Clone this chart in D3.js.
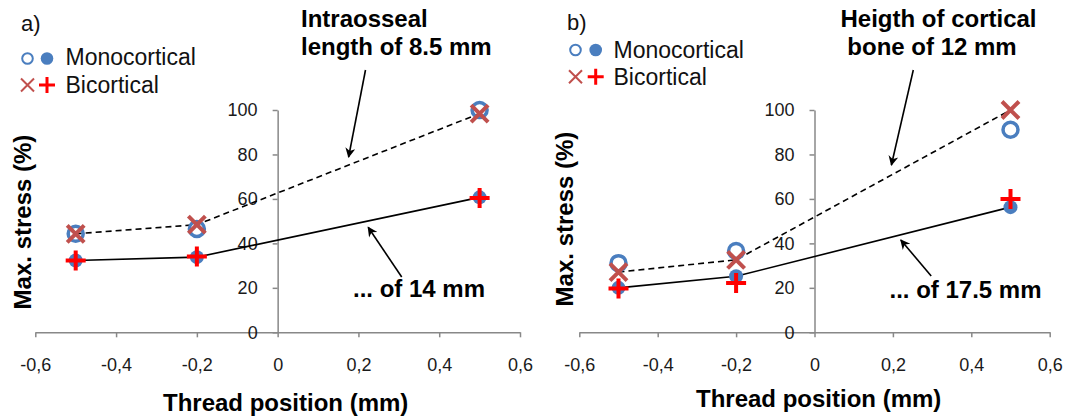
<!doctype html>
<html lang="en">
<head>
    <meta charset="UTF-8">
    <title>Max. stress vs thread position</title>
    <style>
        body { margin: 0; background: #fff; }
        svg { display: block; }
    </style>
</head>
<body>
    <script src="https://d3js.org/d3.v7.min.js"></script>
    <script>
        // thread positions (mm) and axis ticks
        const positions = [-0.5, -0.2, 0.5];
        const xTicks = [-0.6, -0.4, -0.2, 0, 0.2, 0.4, 0.6];
        const yTicks = [0, 20, 40, 60, 80, 100];
        const legendLabels = ["Monocortical", "Bicortical"];

        // panel a) intraosseal length
        const monoOpenA = [44.3, 46.5, 100];
        const biCrossA = [44.3, 48.4, 98.4];
        const monoFilledA = [32.3, 33.8, 60.7];
        const biPlusA = [32.3, 34.1, 60.4];

        // panel b) height of cortical bone
        const monoOpenB = [31.1, 36.6, 91.1];
        const biCrossB = [27.1, 32.6, 100];
        const monoFilledB = [20, 25.2, 56.3];
        const biPlusB = [19.7, 22.2, 60];

        const blue = "#4a7ebf", brick = "#c0504d", red = "#ff0000";

        const svg = d3.select("body").append("svg")
            .attr("width", 1072)
            .attr("height", 420)
            .style("font-family", "'Liberation Sans', Arial, sans-serif");

        svg.append("defs").append("marker")
            .attr("id", "arrow")
            .attr("viewBox", "0 0 10 10")
            .attr("refX", 9)
            .attr("refY", 5)
            .attr("markerUnits", "userSpaceOnUse")
            .attr("markerWidth", 13)
            .attr("markerHeight", 10)
            .attr("orient", "auto")
            .append("path")
            .attr("d", "M0,0 L10,5 L0,10 L3,5 Z")
            .attr("fill", "#000");

        const panels = [
            {
                label: "a)", labelX: 21, labelY: 31,
                left: 35.3, right: 520,
                open: monoOpenA, cross: biCrossA, filled: monoFilledA, plus: biPlusA,
                legend: {x1: 27.5, x2: 47, tx: 65.5, y1: 58.5, y2: 85, ty1: 65, ty2: 92.5},
                notes: [
                    {text: "Intraosseal", x: 301, y: 27, anchor: "start"},
                    {text: "length of 8.5 mm", x: 301, y: 55, anchor: "start"},
                    {text: "... of 14 mm", x: 353, y: 297, anchor: "start"}
                ],
                arrows: [[365.5, 70, 348.6, 157], [401.7, 277, 368.2, 227.3]],
                xTitleX: 285.7, xTitleY: 411, yTitleX: 31, yTitleY: 222
            },
            {
                label: "b)", labelX: 567, labelY: 30,
                left: 579.3, right: 1049.7,
                open: monoOpenB, cross: biCrossB, filled: monoFilledB, plus: biPlusB,
                legend: {x1: 575.5, x2: 595.7, tx: 613.5, y1: 50, y2: 76.7, ty1: 57.5, ty2: 85},
                notes: [
                    {text: "Heigth of cortical", x: 938.5, y: 27, anchor: "middle"},
                    {text: "bone of 12 mm", x: 932, y: 55, anchor: "middle"},
                    {text: "... of 17.5 mm", x: 889.5, y: 298, anchor: "start"}
                ],
                arrows: [[913.3, 70, 891.4, 165], [931.2, 276, 900.8, 240]],
                xTitleX: 818.7, xTitleY: 407, yTitleX: 573, yTitleY: 219
            }
        ];

        const fmt = d => d === 0 ? "0" : d.toFixed(1).replace(".", ",");
        const crossPath = h => `M${-h},${-h}L${h},${h}M${-h},${h}L${h},${-h}`;
        const plusPath = h => `M${-h},0H${h}M0,${-h}V${h}`;

        function drawPanel(p) {
            const g = svg.append("g");
            const x = d3.scaleLinear().domain([-0.6, 0.6]).range([p.left, p.right]);
            const y = d3.scaleLinear().domain([0, 100]).range([332.3, 110]);

            // axes cross at 0
            const xAxis = g.append("g")
                .attr("transform", `translate(0,${y(0)})`)
                .call(d3.axisBottom(x).tickValues(xTicks).tickFormat(fmt)
                    .tickSize(5).tickSizeOuter(0).tickPadding(21));
            const yAxis = g.append("g")
                .attr("transform", `translate(${x(0)},0)`)
                .call(d3.axisLeft(y).tickValues(yTicks)
                    .tickSize(5).tickSizeOuter(0).tickPadding(15));

            [xAxis, yAxis].forEach(a => {
                a.selectAll("path, line").attr("stroke", "#888").attr("stroke-width", 1.5);
                a.selectAll("text")
                    .attr("fill", "#1a1a1a")
                    .style("font-size", "18px")
                    .style("font-family", "'Liberation Sans', Arial, sans-serif");
            });

            // trend lines
            const line = d3.line()
                .x((d, i) => x(positions[i]))
                .y(d => y(d));

            g.append("path")
                .datum(p.cross)
                .attr("d", line)
                .attr("fill", "none")
                .attr("stroke", "#000")
                .attr("stroke-width", 1.6)
                .attr("stroke-dasharray", "6,4");

            g.append("path")
                .datum(p.filled)
                .attr("d", line)
                .attr("fill", "none")
                .attr("stroke", "#000")
                .attr("stroke-width", 1.6);

            // markers
            g.selectAll(".open").data(p.open).enter().append("circle")
                .attr("cx", (d, i) => x(positions[i]))
                .attr("cy", d => y(d))
                .attr("r", 7.5)
                .attr("fill", "none")
                .attr("stroke", blue)
                .attr("stroke-width", 3.5);

            g.selectAll(".filled").data(p.filled).enter().append("circle")
                .attr("cx", (d, i) => x(positions[i]))
                .attr("cy", d => y(d))
                .attr("r", 7)
                .attr("fill", blue);

            g.selectAll(".cross").data(p.cross).enter().append("path")
                .attr("transform", (d, i) => `translate(${x(positions[i])},${y(d)})`)
                .attr("d", crossPath(8.5))
                .attr("stroke", brick)
                .attr("stroke-width", 4);

            g.selectAll(".plus").data(p.plus).enter().append("path")
                .attr("transform", (d, i) => `translate(${x(positions[i])},${y(d)})`)
                .attr("d", plusPath(10))
                .attr("stroke", red)
                .attr("stroke-width", 4);

            // panel label
            g.append("text")
                .attr("x", p.labelX)
                .attr("y", p.labelY)
                .style("font-size", "22px")
                .attr("fill", "#111")
                .text(p.label);

            // legend
            const L = p.legend;
            g.append("circle").attr("cx", L.x1).attr("cy", L.y1).attr("r", 5.3)
                .attr("fill", "none").attr("stroke", blue).attr("stroke-width", 2);
            g.append("circle").attr("cx", L.x2).attr("cy", L.y1).attr("r", 6.3)
                .attr("fill", blue);
            g.append("path").attr("transform", `translate(${L.x1},${L.y2})`)
                .attr("d", crossPath(6.5)).attr("stroke", brick).attr("stroke-width", 2);
            g.append("path").attr("transform", `translate(${L.x2},${L.y2})`)
                .attr("d", plusPath(8)).attr("stroke", red).attr("stroke-width", 3);
            g.append("text").attr("x", L.tx).attr("y", L.ty1)
                .style("font-size", "23px").attr("fill", "#111").text(legendLabels[0]);
            g.append("text").attr("x", L.tx).attr("y", L.ty2)
                .style("font-size", "23px").attr("fill", "#111").text(legendLabels[1]);

            // annotations
            p.notes.forEach(n => {
                g.append("text")
                    .attr("x", n.x)
                    .attr("y", n.y)
                    .attr("text-anchor", n.anchor)
                    .style("font-size", "24px")
                    .style("font-weight", "bold")
                    .attr("fill", "#000")
                    .text(n.text);
            });
            p.arrows.forEach(a => {
                g.append("line")
                    .attr("x1", a[0]).attr("y1", a[1])
                    .attr("x2", a[2]).attr("y2", a[3])
                    .attr("stroke", "#000")
                    .attr("stroke-width", 1.6)
                    .attr("marker-end", "url(#arrow)");
            });

            // axis titles
            g.append("text")
                .attr("x", p.xTitleX)
                .attr("y", p.xTitleY)
                .attr("text-anchor", "middle")
                .style("font-size", "24px")
                .style("font-weight", "bold")
                .text("Thread position (mm)");

            g.append("text")
                .attr("transform", `translate(${p.yTitleX},${p.yTitleY}) rotate(-90)`)
                .attr("text-anchor", "middle")
                .style("font-size", "24px")
                .style("font-weight", "bold")
                .text("Max. stress (%)");
        }

        panels.forEach(drawPanel);
    </script>
</body>
</html>
